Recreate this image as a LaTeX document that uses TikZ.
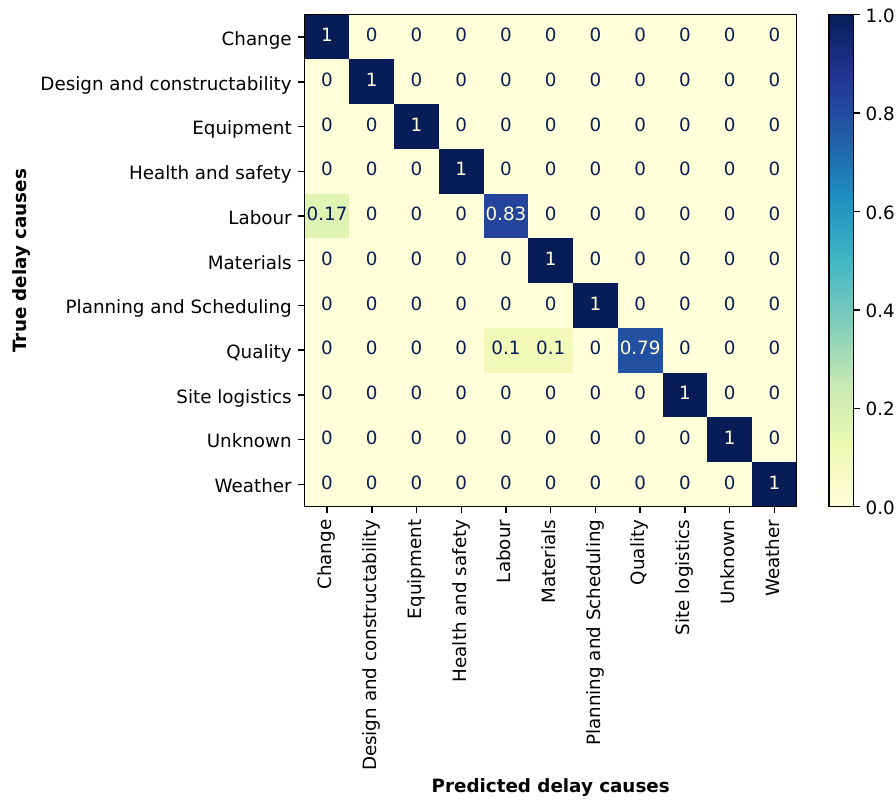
\documentclass[tikz,border=0pt]{standalone}
\usepackage{fontspec}
\setmainfont{DejaVu Sans}
\definecolor{cA}{HTML}{FFFFD9}
\definecolor{cB}{HTML}{EDF8B1}
\definecolor{cC}{HTML}{C7E9B4}
\definecolor{cD}{HTML}{7FCDBB}
\definecolor{cE}{HTML}{41B6C4}
\definecolor{cF}{HTML}{1D91C0}
\definecolor{cG}{HTML}{225EA8}
\definecolor{cH}{HTML}{253494}
\definecolor{cI}{HTML}{081D58}
\definecolor{vA}{HTML}{DFF3B2}
\definecolor{vB}{HTML}{F1F9B9}
\definecolor{vC}{HTML}{24439B}
\definecolor{vD}{HTML}{2351A2}
\newcommand\mysz{\fontsize{18.3}{22}\selectfont}
\begin{document}
\begin{tikzpicture}[x=1pt,y=-1pt,
  lab/.style={font=\mysz, text height=13.9pt, text depth=4.4pt, inner sep=0pt},
  blab/.style={lab, font=\mysz\bfseries},
  tick/.style={line width=1.46pt, black},
  frame/.style={line width=1.46pt, black}]
\useasboundingbox (0,0) rectangle (896,803);
\def\xo{304.7}\def\yo{14.7}\def\cs{44.7273}
% background
\fill[cA] (\xo,\yo) rectangle (796.7,506.7);
% zero cells
\foreach \i in {0,...,10}{
  \foreach \j in {0,...,10}{
    \pgfmathtruncatemacro\sk{(\i==\j)||(\i==4&&\j==0)||(\i==7&&(\j==4||\j==5))}
    \ifnum\sk=0
      \node[lab, text=cI] (cell-\i-\j) at ({\xo+\cs*(\j+0.5)},{\yo+\cs*(\i+0.5)}) {0};
    \fi
  }
}
% special cells
\foreach \i/\j/\v/\c/\t in {0/0/1/cI/cA,1/1/1/cI/cA,2/2/1/cI/cA,3/3/1/cI/cA,4/4/0.83/vC/cA,5/5/1/cI/cA,6/6/1/cI/cA,7/7/0.79/vD/cA,8/8/1/cI/cA,9/9/1/cI/cA,10/10/1/cI/cA,4/0/0.17/vA/cI,7/4/0.1/vB/cI,7/5/0.1/vB/cI}{
  \fill[fill=\c] ({\xo+\cs*\j},{\yo+\cs*\i}) rectangle ++(\cs,\cs);
  \node[lab, text=\t] (cell-\i-\j) at ({\xo+\cs*(\j+0.5)},{\yo+\cs*(\i+0.5)}) {\v};
}
\draw[frame] (\xo,\yo) rectangle (796.7,506.7);
% tick labels
\foreach \n [count=\k from 0] in {Change,Design and constructability,Equipment,Health and safety,Labour,Materials,Planning and Scheduling,Quality,Site logistics,Unknown,Weather}{
  \coordinate (yt-\k) at (\xo,{\yo+\cs*(\k+0.5)});
  \draw[tick] (yt-\k) -- ++(-6.4,0);
  \node[lab, anchor=base east] (yl-\k) at ({\xo-12.8},{\yo+\cs*(\k+0.5)+8.3}) {\n};
  \coordinate (xt-\k) at ({\xo+\cs*(\k+0.5)},506.7);
  \draw[tick] (xt-\k) -- ++(0,6.4);
  \node[lab, anchor=east, rotate=90] (xl-\k) at ({\xo+\cs*(\k+0.5)},519.5) {\n};
}
% axis labels
\node[blab] (ylabel) at (22,260.7) [rotate=90] {True delay causes};
\node[blab] (xlabel) at (550.7,788) {Predicted delay causes};
% colorbar
\foreach \k/\a/\b in {0/cA/cB,1/cB/cC,2/cC/cD,3/cD/cE,4/cE/cF,5/cF/cG,6/cG/cH,7/cH/cI}{
  \shade[bottom color=\a, top color=\b] (829,{506.7-61.5*\k+0.3}) rectangle (853.3,{506.7-61.5*(\k+1)-0.3});
}
\draw[frame] (829,14.7) rectangle (853.3,506.7);
\foreach \v [count=\k from 0] in {0.0,0.2,0.4,0.6,0.8,1.0}{
  \coordinate (ct-\k) at (853.3,{506.7-98.4*\k});
  \draw[tick] (ct-\k) -- ++(6.4,0);
  \node[lab, anchor=base west] (cl-\k) at (865.5,{506.7-98.4*\k+7.6}) {\v};
}
\end{tikzpicture}
\end{document}
